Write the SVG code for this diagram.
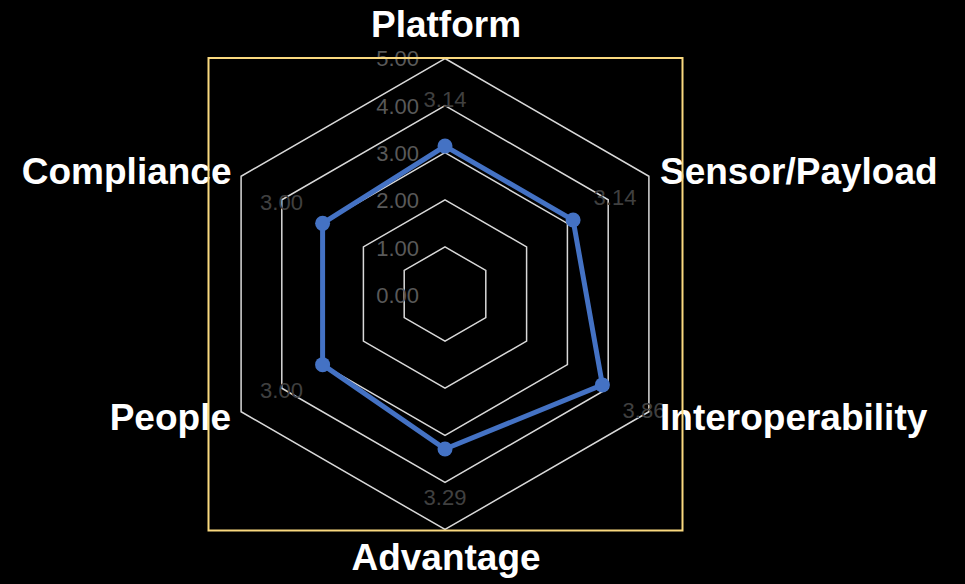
<svg xmlns="http://www.w3.org/2000/svg" width="965" height="584" viewBox="0 0 965 584">
<style>
.grid{fill:none;stroke:#d9d9d9;stroke-width:1.5}
.tick{font-family:"Liberation Sans",Arial,sans-serif;font-size:22px;fill:#595959;text-anchor:end}
.dl{font-family:"Liberation Sans",Arial,sans-serif;font-size:22px;fill:#404040;text-anchor:middle}
.cat{font-family:"Liberation Sans",Arial,sans-serif;font-size:37px;font-weight:bold;fill:#ffffff}
.series{fill:none;stroke:#4472c4;stroke-width:5;stroke-linejoin:round}
.mk{fill:#4472c4}
</style>
<rect x="0" y="0" width="965" height="584" fill="#000000"/>
<g id="grid">
<polygon class="grid" points="445,246.9 485.8,270.45 485.8,317.55 445,341.1 404.2,317.55 404.2,270.45"/>
<polygon class="grid" points="445,199.8 526.6,246.9 526.6,341.1 445,388.2 363.4,341.1 363.4,246.9"/>
<polygon class="grid" points="445,152.7 567.4,223.35 567.4,364.65 445,435.3 322.6,364.65 322.6,223.35"/>
<polygon class="grid" points="445,105.6 608.2,199.8 608.2,388.2 445,482.4 281.8,388.2 281.8,199.8"/>
<polygon class="grid" points="445,58.5 648.9,176.25 648.9,411.75 445,529.5 241.1,411.75 241.1,176.25"/>
</g>
<g id="ticks">
<text class="tick" x="419" y="302.5">0.00</text>
<text class="tick" x="419" y="255.5">1.00</text>
<text class="tick" x="419" y="208.3">2.00</text>
<text class="tick" x="419" y="161">3.00</text>
<text class="tick" x="419" y="113.5">4.00</text>
<text class="tick" x="419" y="66.3">5.00</text>
</g>
<g id="series">
<polygon class="series" points="445,146.1 573.1,220.05 602.4,384.9 445,449 322.6,364.65 322.6,223.35"/>
<circle class="mk" cx="445" cy="146.1" r="7.5"/>
<circle class="mk" cx="573.1" cy="220.05" r="7.5"/>
<circle class="mk" cx="602.4" cy="384.9" r="7.5"/>
<circle class="mk" cx="445" cy="449" r="7.5"/>
<circle class="mk" cx="322.6" cy="364.65" r="7.5"/>
<circle class="mk" cx="322.6" cy="223.35" r="7.5"/>
</g>
<g id="data-labels">
<text class="dl" x="445" y="107">3.14</text>
<text class="dl" x="615" y="205">3.14</text>
<text class="dl" x="644" y="418">3.86</text>
<text class="dl" x="445" y="505">3.29</text>
<text class="dl" x="281.5" y="398.3">3.00</text>
<text class="dl" x="281.5" y="209.5">3.00</text>
</g>
<g id="node-platform"><text class="cat" x="446" y="37" text-anchor="middle">Platform</text></g>
<g id="node-sensor"><text class="cat" x="660" y="184">Sensor/Payload</text></g>
<g id="node-interoperability"><text class="cat" x="660" y="429.5">Interoperability</text></g>
<g id="node-advantage"><text class="cat" x="446" y="570" text-anchor="middle">Advantage</text></g>
<g id="node-people"><text class="cat" x="231" y="429.5" text-anchor="end">People</text></g>
<g id="node-compliance"><text class="cat" x="231.5" y="184" text-anchor="end">Compliance</text></g>
<rect x="208.5" y="58" width="474" height="472.5" fill="none" stroke="#fad97f" stroke-width="2"/>
</svg>
